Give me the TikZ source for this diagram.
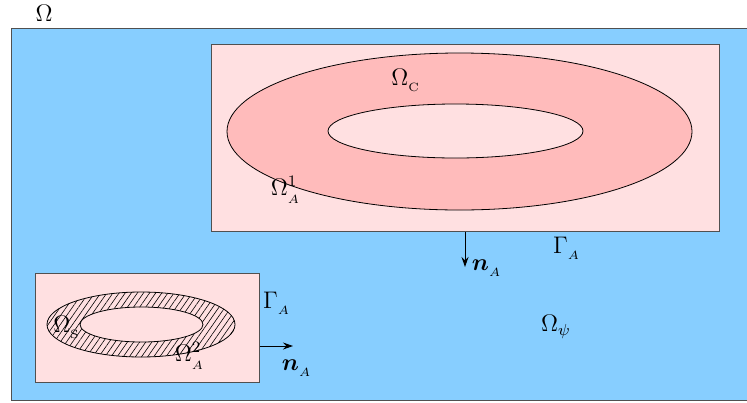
\documentclass[tikz,border=0pt]{standalone}
\usepackage{xcolor}
\definecolor{regionBlue}{HTML}{87CEFF}
\definecolor{regionPink}{HTML}{FFE0E1}
\definecolor{coilPink}{HTML}{FFBBBB}
\definecolor{edgeGray}{HTML}{505050}
\usepackage{tikz}
\usetikzlibrary{positioning, arrows.meta, patterns.meta}
\usepackage{amsmath}
\usepackage{amssymb}

\begin{document}
\begin{tikzpicture}[x=0.5pt, y=-0.5pt,
  every node/.style={font=\large, inner sep=1pt},
  region/.style={rectangle, draw=edgeGray, fill=regionPink, inner sep=0pt,
                 anchor=north west},
  ring/.style={draw=black, line width=0.4pt},
  arrow/.style={-{Stealth[length=5pt, width=3.5pt]}, line width=0.5pt, color=black},
]
\clip (0,0) rectangle (747,402);

% Whole domain Omega
\node[region, fill=regionBlue, minimum width=400pt, minimum height=186pt] (omega)
      at (11,28) {};
\node (lomega) at (44,13) {$\Omega$};

% Conductor box (top)
\node[region, minimum width=254pt, minimum height=93.5pt] (box1) at (211,44) {};
\draw[ring, fill=coilPink, even odd rule]
      (459.5,131.5) ellipse [x radius=232.5, y radius=78.5]
      (455.5,131) ellipse [x radius=127.5, y radius=27];

% Source box (bottom left)
\node[region, minimum width=112pt, minimum height=54.5pt] (box2) at (35,273) {};
\draw[ring, pattern={Lines[angle=55, distance=2.5pt, line width=0.3pt]},
      even odd rule]
      (141,324.5) ellipse [x radius=94, y radius=32.5]
      (141.5,324.5) ellipse [x radius=61.5, y radius=17.5];

% Normals
\coordinate (tip1) at (465,267);
\coordinate (tip2) at (293,346);
\draw[arrow] (tip1 |- box1.south) -- (tip1);
\draw[arrow] (box2.east |- tip2) -- (tip2);

% Labels
\node (omc) at (406,80) {$\Omega_{_{\rm C}}$};
\node (oma1) at (286,190) {$\Omega^1_{_A}$};
\node (na1) at (487,268) {$\boldsymbol{n}_{_A}$};
\node (ga1) at (567,248) {$\Gamma_{_A}$};
\node (ga2) at (277,303) {$\Gamma_{_A}$};
\node (na2) at (297,368) {$\boldsymbol{n}_{_A}$};
\node (oms) at (67,327) {$\Omega_{_{\rm S}}$};
\node (oma2) at (190,356) {$\Omega^2_{_A}$};
\node (ompsi) at (556,327) {$\Omega_\psi$};

\end{tikzpicture}
\end{document}
